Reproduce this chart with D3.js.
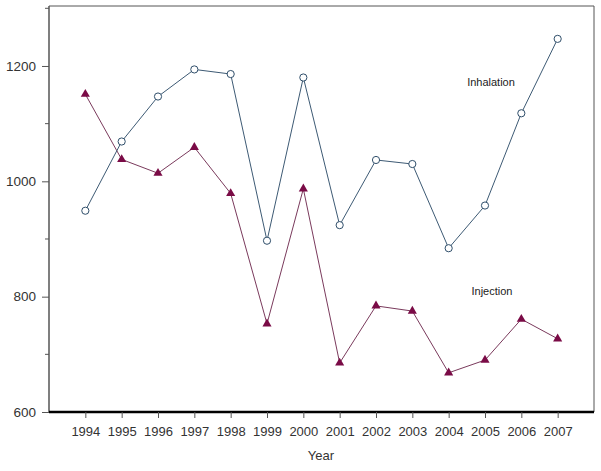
<!DOCTYPE html>
<html>
<head>
<meta charset="utf-8">
<script src="https://cdn.jsdelivr.net/npm/d3@7"></script>
<style>
  body { margin: 0; background: #fff; }
  svg { display: block; font-family: Arial, "Liberation Sans", sans-serif; }
</style>
</head>
<body>
<svg id="chart" width="601" height="471"></svg>
<script>
const years = [1994, 1995, 1996, 1997, 1998, 1999, 2000, 2001, 2002, 2003, 2004, 2005, 2006, 2007];
const inhalation = [949, 1069, 1147, 1194, 1186, 897, 1180, 924, 1037, 1030, 884, 958, 1118, 1247];
const injection = [1151, 1038, 1014, 1059, 979, 753, 987, 685, 784, 775, 668, 690, 761, 727];
const yTicks = [600, 800, 1000, 1200];
const yMinorTicks = [700, 900, 1100, 1300];

const svg = d3.select('#chart');

const plotLeft = 49, plotRight = 594, plotTop = 6, plotBottom = 412;

const x = d3.scaleLinear().domain([1993, 2008]).range([plotLeft, plotRight]);
const y = d3.scaleLinear().domain([600, 1300]).range([plotBottom, 8.3]);

// frame (top and right sides)
svg.append('path')
  .attr('d', `M${plotLeft},${plotTop}H${plotRight}V${plotBottom}`)
  .attr('fill', 'none')
  .attr('stroke', '#555')
  .attr('stroke-width', 1);

// y axis
const yAxis = svg.append('g').attr('transform', `translate(${plotLeft},0)`)
  .call(d3.axisLeft(y).tickValues(yTicks).tickSize(7).tickPadding(6).tickFormat(d3.format('d')));
yAxis.select('.domain').attr('d', `M0,${plotTop}V${plotBottom}`).attr('stroke', '#555').attr('stroke-width', 1.5);
yAxis.selectAll('.tick line').attr('stroke', '#555');
yAxis.selectAll('text').attr('font-size', '13.5px').attr('fill', '#333').attr('font-family', 'Arial, "Liberation Sans", sans-serif');

svg.append('g').selectAll('line').data(yMinorTicks).join('line')
  .attr('x1', plotLeft - 4).attr('x2', plotLeft)
  .attr('y1', d => y(d)).attr('y2', d => y(d))
  .attr('stroke', '#555');

// x axis
const xAxis = svg.append('g').attr('transform', `translate(0,${plotBottom})`)
  .call(d3.axisBottom(x).tickValues(years).tickSize(6).tickPadding(9).tickFormat(d3.format('d')));
xAxis.select('.domain').attr('d', `M${plotLeft},0H${plotRight}`).attr('stroke', '#000').attr('stroke-width', 2.5);
xAxis.selectAll('.tick line').attr('stroke', '#555');
xAxis.selectAll('text').attr('font-size', '13px').attr('fill', '#333').attr('font-family', 'Arial, "Liberation Sans", sans-serif');

svg.append('text')
  .attr('x', 321).attr('y', 460)
  .attr('text-anchor', 'middle')
  .attr('font-size', '13px').attr('fill', '#333')
  .text('Year');

const line = d3.line().x(d => x(d[0])).y(d => y(d[1]));

const inhData = years.map((yr, i) => [yr, inhalation[i]]);
const injData = years.map((yr, i) => [yr, injection[i]]);

svg.append('path').datum(injData)
  .attr('d', line).attr('fill', 'none')
  .attr('stroke', '#7a3a5c').attr('stroke-width', 1);

svg.append('path').datum(inhData)
  .attr('d', line).attr('fill', 'none')
  .attr('stroke', '#3d5a74').attr('stroke-width', 1);

const tri = d3.symbol().type(d3.symbolTriangle).size(36);
svg.append('g').selectAll('path').data(injData).join('path')
  .attr('d', tri)
  .attr('transform', d => `translate(${x(d[0])},${y(d[1])})`)
  .attr('fill', '#7a0b46');

svg.append('g').selectAll('circle').data(inhData).join('circle')
  .attr('cx', d => x(d[0])).attr('cy', d => y(d[1]))
  .attr('r', 3.6)
  .attr('fill', '#fff')
  .attr('stroke', '#2f4e6a').attr('stroke-width', 1);

// series labels
svg.append('text')
  .attr('x', 491).attr('y', 86)
  .attr('text-anchor', 'middle')
  .attr('font-size', '11px').attr('fill', '#222')
  .text('Inhalation');

svg.append('text')
  .attr('x', 492).attr('y', 295)
  .attr('text-anchor', 'middle')
  .attr('font-size', '11px').attr('fill', '#222')
  .text('Injection');
</script>
</body>
</html>
